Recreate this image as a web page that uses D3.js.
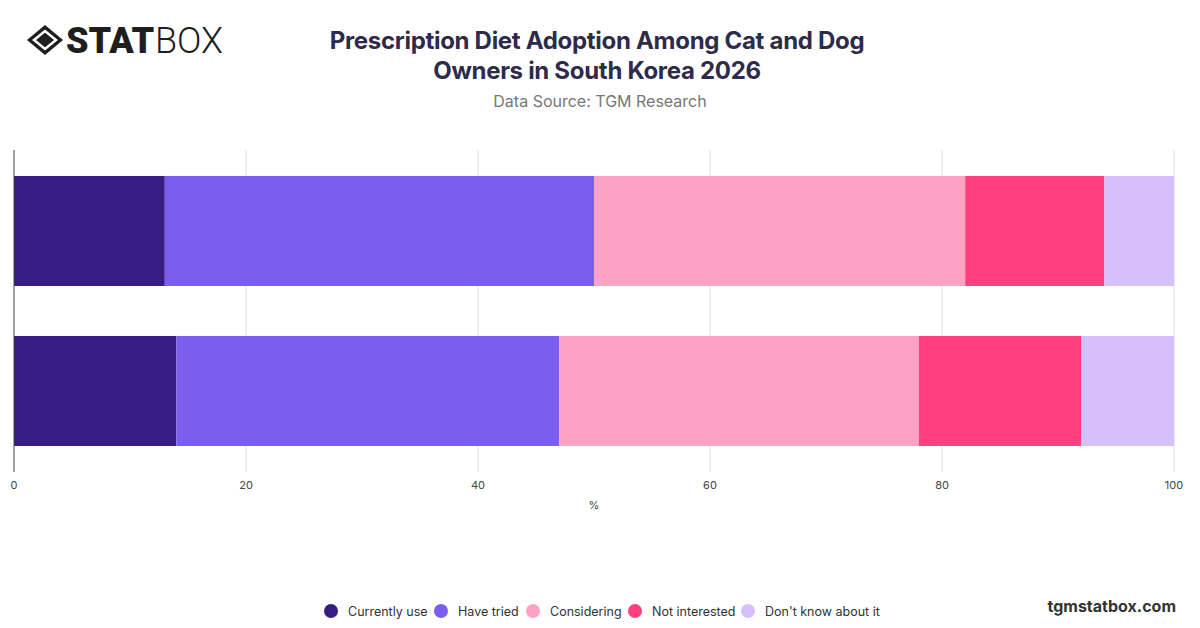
<!DOCTYPE html>
<html>
<head>
<meta charset="utf-8">
<script src="https://cdn.jsdelivr.net/npm/d3@7"></script>
<style>
  body { margin: 0; background: #fff; font-family: Inter, "Open Sans", sans-serif; }
</style>
</head>
<body>
<svg id="chart" width="1200" height="628"></svg>
<script>
// Data
const categories = ["Cat owners", "Dog owners"]
const seriesNames = ["Currently use", "Have tried", "Considering", "Not interested", "Don't know about it"]
const seriesColors = ["#371d83", "#7c5eef", "#fca3c3", "#ff3f80", "#d6bffb"]
const currentlyUse = [13, 14]
const haveTried = [37, 33]
const considering = [32, 31]
const notInterested = [12, 14]
const dontKnow = [6, 8]
const xTicks = [0, 20, 40, 60, 80, 100]

const seriesValues = [currentlyUse, haveTried, considering, notInterested, dontKnow]
const rows = categories.map((c, i) => {
  const r = { category: c }
  seriesNames.forEach((s, j) => (r[s] = seriesValues[j][i]))
  return r
})
const stacked = d3.stack().keys(seriesNames)(rows)

const svg = d3.select("#chart")
const margin = { left: 14, right: 26, top: 150, bottom: 162 }
const w = 1200 - margin.left - margin.right
const h = 628 - margin.top - margin.bottom

const xScale = d3.scaleLinear().domain([0, 100]).range([0, w])
const yScale = d3.scaleBand().domain(categories).range([0, h])
  .paddingInner(0.3125).paddingOuter(0.14375).align(0.565)

// Title
svg.append("text").attr("x", 597).attr("y", 49).attr("text-anchor", "middle")
  .attr("font-size", 24).attr("font-weight", 700).attr("fill", "#2e2a4a")
  .attr("letter-spacing", -0.3).text("Prescription Diet Adoption Among Cat and Dog")
svg.append("text").attr("x", 597).attr("y", 79).attr("text-anchor", "middle")
  .attr("font-size", 24).attr("font-weight", 700).attr("fill", "#2e2a4a")
  .attr("letter-spacing", -0.3).text("Owners in South Korea 2026")
svg.append("text").attr("x", 600).attr("y", 107).attr("text-anchor", "middle")
  .attr("font-size", 16).attr("fill", "#777").text("Data Source: TGM Research")

// Logo
const logo = svg.append("g").attr("transform", "translate(45, 40)")
logo.append("path").attr("d", "M-18,0 L0,-15 L18,0 L0,15 Z").attr("fill", "#1e1e1e")
logo.append("path").attr("d", "M-11,0 L0,-9 L11,0 L0,9 Z").attr("fill", "none").attr("stroke", "#fff").attr("stroke-width", 2.5)
svg.append("text").attr("x", 66).attr("y", 53).attr("font-size", 36).attr("font-weight", 900)
  .attr("fill", "#1e1e1e").attr("font-family", "Roboto, sans-serif").text("STAT")
svg.append("text").attr("x", 155).attr("y", 53).attr("font-size", 36).attr("font-weight", 300)
  .attr("fill", "#1e1e1e").attr("font-family", "Roboto, sans-serif").text("BOX")

const g = svg.append("g").attr("transform", `translate(${margin.left}, ${margin.top})`)

// Grid
g.selectAll("line.grid").data(xTicks.slice(1)).enter().append("line")
  .attr("x1", d => xScale(d)).attr("x2", d => xScale(d))
  .attr("y1", 0).attr("y2", h + 6)
  .attr("stroke", "#e0e0e0").attr("stroke-width", 1)

// Bars
g.selectAll("g.series").data(stacked).enter().append("g")
  .attr("fill", (d, i) => seriesColors[i])
  .selectAll("rect").data(d => d).enter().append("rect")
  .attr("x", d => xScale(d[0]))
  .attr("y", d => yScale(d.data.category))
  .attr("width", d => xScale(d[1]) - xScale(d[0]))
  .attr("height", yScale.bandwidth())

// Left axis line
g.append("line").attr("x1", 0).attr("x2", 0).attr("y1", 0).attr("y2", h + 6)
  .attr("stroke", "#444").attr("stroke-width", 1)

// X tick labels
g.selectAll("text.tick").data(xTicks).enter().append("text")
  .attr("x", d => xScale(d)).attr("y", h + 23).attr("text-anchor", "middle")
  .attr("font-size", 11).attr("fill", "#444").text(d => d)
g.append("text").attr("x", w / 2).attr("y", h + 43).attr("text-anchor", "middle")
  .attr("font-size", 11).attr("fill", "#444").text("%")

// Legend
const legendX = [331, 441, 533, 635, 748]
const legend = svg.selectAll("g.legend").data(seriesNames).enter().append("g")
  .attr("transform", (d, i) => `translate(${legendX[i]}, 611)`)
legend.append("circle").attr("r", 7).attr("fill", (d, i) => seriesColors[i])
legend.append("text").attr("x", 17).attr("y", 5).attr("font-size", 12.5).attr("fill", "#333").text(d => d)

svg.append("text").attr("x", 1176).attr("y", 612).attr("text-anchor", "end")
  .attr("font-size", 16).attr("font-weight", 700).attr("fill", "#333").text("tgmstatbox.com")
</script>
</body>
</html>
